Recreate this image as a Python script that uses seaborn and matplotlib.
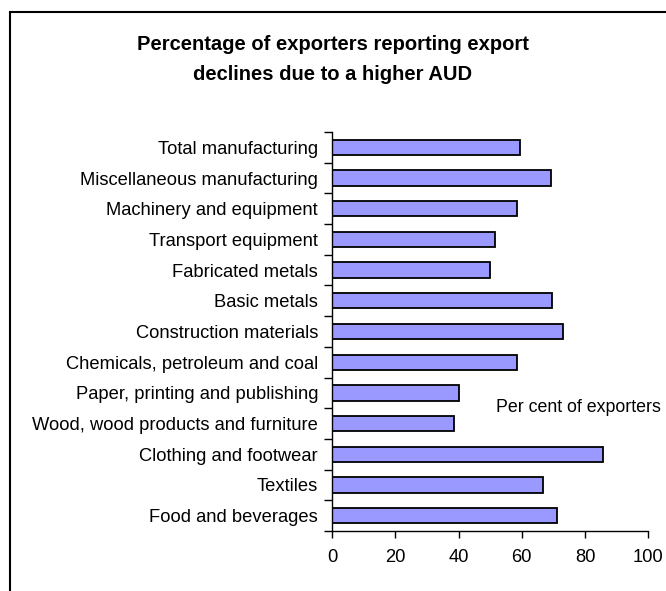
import matplotlib
matplotlib.use("Agg")
import matplotlib.pyplot as plt
from matplotlib.patches import Rectangle
import numpy as np
import pandas as pd
import seaborn as sns

industries = [
    "Total manufacturing",
    "Miscellaneous manufacturing",
    "Machinery and equipment",
    "Transport equipment",
    "Fabricated metals",
    "Basic metals",
    "Construction materials",
    "Chemicals, petroleum and coal",
    "Paper, printing and publishing",
    "Wood, wood products and furniture",
    "Clothing and footwear",
    "Textiles",
    "Food and beverages",
]
share_pct = [59.4, 69.3, 58.5, 51.4, 50.0, 69.7, 73.1, 58.5, 40.1, 38.6, 85.8, 66.6, 71.2]
x_ticks = [0, 20, 40, 60, 80, 100]

df = pd.DataFrame({"industry": industries, "share": share_pct})

sns.set_theme(style="white")
plt.rcParams["font.family"] = ["Liberation Sans", "DejaVu Sans"]
plt.rcParams["text.color"] = "black"

fig = plt.figure(figsize=(6.66, 5.91), dpi=100)
ax = fig.add_axes([332 / 666, 1 - 531 / 591, (648.3 - 332) / 666, (531 - 132) / 591])

sns.barplot(data=df, x="share", y="industry", order=industries, orient="h",
            color="#9999FF", saturation=1, width=0.5, edgecolor="black",
            linewidth=1.3, ax=ax)

ax.set_xlim(0, 100)
ax.set_ylim(len(industries) - 0.5, -0.5)
ax.set_xticks(x_ticks)
ax.set_xticklabels([str(t) for t in x_ticks], fontsize=13.2)
ax.set_xlabel("")
ax.set_ylabel("")
ax.tick_params(axis="y", which="major", length=0, pad=10, labelsize=13.2, labelcolor="black")
ax.tick_params(axis="x", which="major", length=5, width=1, direction="out",
               color="black", pad=8, labelcolor="black", bottom=True)
ax.set_yticks(np.arange(-0.5, len(industries), 1.0), minor=True)
ax.tick_params(axis="y", which="minor", length=6, width=1, direction="out",
               color="black", left=True)

for side in ["top", "right"]:
    ax.spines[side].set_visible(False)
for side in ["left", "bottom"]:
    ax.spines[side].set_visible(True)
    ax.spines[side].set_color("black")
    ax.spines[side].set_linewidth(1)

fig.text(496 / 666, 1 - 408 / 591, "Per cent of exporters",
         fontsize=12.8, ha="left", va="center", color="black")

fig.text(0.5, 1 - 45 / 591, "Percentage of exporters reporting export",
         ha="center", va="center", fontsize=14.5, fontweight="bold", color="black")
fig.text(0.5, 1 - 75 / 591, "declines due to a higher AUD",
         ha="center", va="center", fontsize=14.5, fontweight="bold", color="black")

# outer frame around the chart area
fig.patches.append(Rectangle((9.5 / 666, -0.1), 1.2, 1.1 - 12 / 591,
                             transform=fig.transFigure, fill=False,
                             edgecolor="black", linewidth=1.5))

fig.savefig("out.png", dpi=100, facecolor="white")
